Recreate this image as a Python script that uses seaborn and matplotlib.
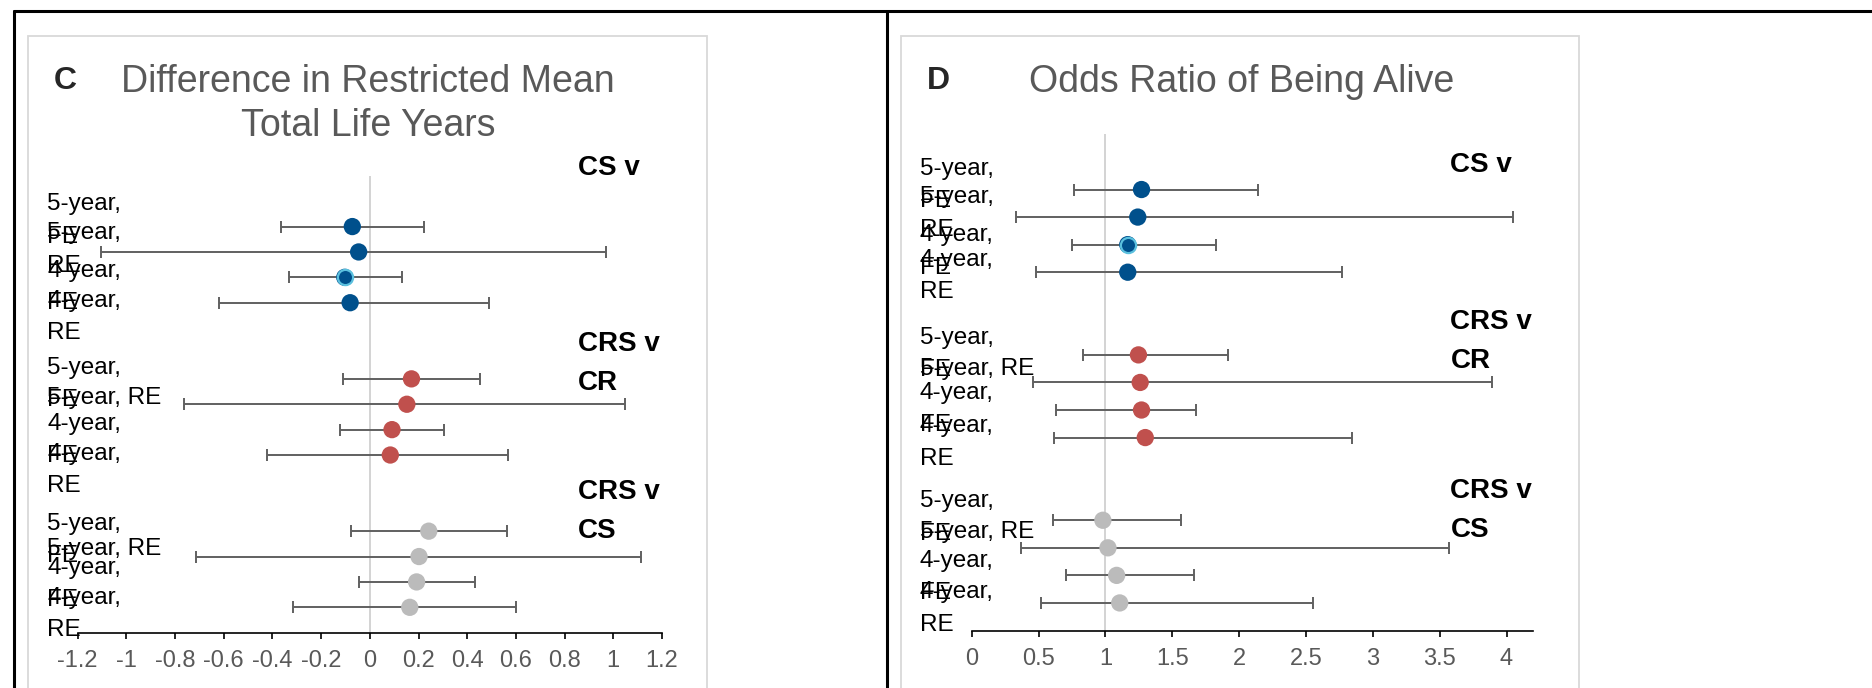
import matplotlib
matplotlib.use("Agg")
import matplotlib.pyplot as plt
import matplotlib.transforms as mtransforms
from matplotlib.lines import Line2D
from matplotlib.patches import Rectangle
import pandas as pd
import seaborn as sns

sns.set_theme(style="white")
plt.rcParams["font.family"] = ["Liberation Sans", "DejaVu Sans"]

# data
groups = ["CS v CR", "CRS v CR", "CRS v CS"]
group_text = ["CS v", "CRS v\nCR", "CRS v\nCS"]
models = ["5-year, FE", "5-year, RE", "4-year, FE", "4-year, RE"]
row_text = ["5-year,\nFE", "5-year,\nRE", "4-year,\nFE", "4-year,\nRE",
            "5-year,\nFE", "5-year, RE", "4-year,\nFE", "4-year,\nRE",
            "5-year,\nFE", "5-year, RE", "4-year,\nFE", "4-year,\nRE"]

rmtly_est = [-0.072, -0.046, -0.103, -0.081, 0.171, 0.152, 0.091, 0.084, 0.242, 0.202, 0.192, 0.164]
rmtly_lo = [-0.364, -1.105, -0.331, -0.620, -0.110, -0.765, -0.124, -0.424, -0.079, -0.713, -0.046, -0.315]
rmtly_hi = [0.223, 0.970, 0.131, 0.489, 0.452, 1.046, 0.305, 0.567, 0.565, 1.112, 0.430, 0.602]

or_est = [1.270, 1.242, 1.167, 1.167, 1.247, 1.260, 1.270, 1.298, 0.981, 1.019, 1.084, 1.107]
or_lo = [0.763, 0.335, 0.749, 0.479, 0.833, 0.460, 0.633, 0.619, 0.609, 0.372, 0.707, 0.521]
or_hi = [2.140, 4.051, 1.828, 2.767, 1.916, 3.893, 1.674, 2.847, 1.567, 3.572, 1.660, 2.553]

palette = {"CS v CR": "#00508c", "CRS v CR": "#c0504d", "CRS v CS": "#bbbbbb"}
ring_color = "#5bc0de"
W, H = 1872, 688


def fx(px):
    return px / W


def fy(py):
    return 1 - py / H


def make_df(est, lo, hi):
    rows = []
    for gi, g in enumerate(groups):
        for mi, m in enumerate(models):
            k = gi * 4 + mi
            rows.append({"group": g, "model": m, "slot": gi * 6 + 2 + mi,
                         "est": est[k], "lo": lo[k], "hi": hi[k]})
    return pd.DataFrame(rows)


def panel(fig, ax, df, xlim, ticks, ref, label_x, label_y, grp_x, grp_y):
    ax.axvline(ref, color="#c8c8c8", lw=1.1, zorder=1)
    ax.errorbar(df["est"], df["slot"], xerr=[df["est"] - df["lo"], df["hi"] - df["est"]],
                fmt="none", ecolor="#606060", elinewidth=1.4, capsize=4.6, capthick=1.4, zorder=2)
    sns.scatterplot(data=df, x="est", y="slot", hue="group", palette=palette, s=155,
                    linewidth=0, legend=False, ax=ax, zorder=3)
    r = df.iloc[2]
    ax.scatter([r["est"]], [r["slot"]], s=120, color=palette[r["group"]],
               edgecolor=ring_color, linewidth=1.6, zorder=4)

    ax.set_xlim(*xlim)
    ax.set_ylim(18, 0)
    ax.set_xticks(ticks)
    ax.set_xticklabels([f"{t:g}" for t in ticks])
    ax.set_yticks([])
    ax.set_xlabel("")
    ax.set_ylabel("")
    for s in ["top", "left", "right"]:
        ax.spines[s].set_visible(False)
    ax.spines["bottom"].set_color("black")
    ax.spines["bottom"].set_linewidth(1.2)
    ax.tick_params(axis="x", direction="out", length=4.5, width=1.2, color="black",
                   labelcolor="#595959", labelsize=17, pad=8, bottom=True)
    ax.set_facecolor("none")

    trans = mtransforms.blended_transform_factory(fig.transFigure, ax.transData)
    for txt, y in zip(row_text, label_y):
        ax.text(fx(label_x), y, txt, transform=trans, ha="left", va="center",
                fontsize=17.5, color="black", linespacing=1.6)
    for txt, y in zip(group_text, grp_y):
        ax.text(grp_x, y, txt, ha="left", va="center", fontsize=20,
                fontweight="bold", color="black", linespacing=1.65)


fig = plt.figure(figsize=(W / 100, H / 100), dpi=100)

# outer table lines and chart boxes
for (x0, y0, x1, y1) in [(14, 11, W, 11), (14, 11, 14, H), (887, 11, 887, H)]:
    fig.add_artist(Line2D([fx(x0), fx(x1)], [fy(y0), fy(y1)], color="black", lw=2.2))
for (x0, x1) in [(28, 707), (901, 1579)]:
    fig.add_artist(Rectangle((fx(x0), fy(H + 10)), fx(x1) - fx(x0), fy(36) - fy(H + 10),
                             fill=False, edgecolor="#d9d9d9", lw=1.3))

ax1 = fig.add_axes([fx(77.7), fy(632.7), fx(662) - fx(77.7), fy(175.8) - fy(632.7)])
ax2 = fig.add_axes([fx(971.7), fy(630.5), fx(1533.3) - fx(971.7), fy(134.4) - fy(630.5)])

panel(fig, ax1, make_df(rmtly_est, rmtly_lo, rmtly_hi), (-1.2, 1.2),
      [-1.2, -1, -0.8, -0.6, -0.4, -0.2, 0, 0.2, 0.4, 0.6, 0.8, 1, 1.2], 0, 47,
      [1.76, 2.90, 4.38, 5.57, 8.21, 8.76, 10.41, 11.58, 14.36, 14.69, 16.08, 17.26],
      0.855, [-0.30, 7.38, 13.23])
panel(fig, ax2, make_df(or_est, or_lo, or_hi), (0, 4.2),
      [0, 0.5, 1, 1.5, 2, 2.5, 3, 3.5, 4], 1, 920,
      [1.85, 2.87, 4.25, 5.14, 7.98, 8.50, 9.96, 11.18, 13.90, 14.44, 16.06, 17.20],
      3.58, [1.11, 7.51, 13.63])

fig.text(fx(54), fy(81), "C", ha="left", va="center", fontsize=23, fontweight="bold")
fig.text(fx(368), fy(104), "Difference in Restricted Mean\nTotal Life Years", ha="center",
         va="center", fontsize=27, color="#595959", linespacing=1.25)
fig.text(fx(927), fy(81), "D", ha="left", va="center", fontsize=23, fontweight="bold")
fig.text(fx(1241.5), fy(82), "Odds Ratio of Being Alive", ha="center", va="center",
         fontsize=27, color="#595959")

fig.savefig("out.png", dpi=100)
